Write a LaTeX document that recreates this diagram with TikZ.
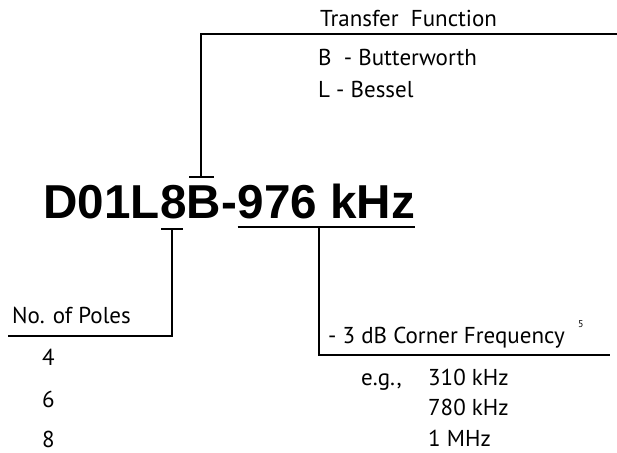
\documentclass[tikz,border=0pt]{standalone}
\usepackage{fontspec}
\setmainfont{PT Sans}
\newfontfamily\partfont{Liberation Sans}
\usetikzlibrary{calc}
\tikzset{
  lbl/.style={anchor=base west, inner sep=0pt, font=\fontsize{23}{27}\selectfont},
  big/.style={anchor=base west, inner sep=0pt, font=\partfont\bfseries\fontsize{47.6}{56}\selectfont},
  lead/.style={line width=2.2pt}
}
\begin{document}
\begin{tikzpicture}[x=1pt, y=-1pt, line join=miter, line cap=butt]
	\useasboundingbox (0,0) rectangle (617,452);
	
	% part number, one node per field
	\node[big] (pre) at (43,218) {D01L};
	\node[big] (pole) at (pre.base east) {8};
	\node[big] (type) at (pole.base east) {B};
	\node[big] (dash) at (type.base east) {-};
	\node[big] (freq) at (dash.base east) {976 kHz};
	
	% transfer function
	\coordinate (tfL) at ($(type.base)+(-15,-41)$);
	\coordinate (tfR) at ($(type.base)+(10,-41)$);
	\coordinate (tfM) at ($(type.base)+(-3,-41)$);
	\coordinate (tfTop) at ($(tfM|-0,34)$);
	\coordinate (tfEnd) at (617,34);
	\draw[lead] (tfL)--(tfR) (tfM)--(tfTop)--(tfEnd);
	
	\node[lbl] (tfHead) at (320,27) {Transfer\ \ Function};
	\node[lbl] (tfB) at (318,65) {B\ \ - Butterworth};
	\node[lbl] (tfL2) at (318,97) {L\ - Bessel};
	
	% poles
	\coordinate (plL) at ($(pole.base)+(-12,11)$);
	\coordinate (plR) at ($(pole.base)+(10,11)$);
	\coordinate (plM) at ($(pole.base)+(-1,11)$);
	\coordinate (plBot) at ($(plM|-0,336)$);
	\coordinate (plEnd) at (8,336);
	\draw[lead] (plL)--(plR) (plM)--(plBot)--(plEnd);
	
	\node[lbl] (plHead) at (12,323) {No. of Poles};
	\node[lbl] (pl4) at (42,365) {4};
	\node[lbl] (pl6) at (42,407) {6};
	\node[lbl] (pl8) at (42,447) {8};
	
	% corner frequency
	\coordinate (fqL) at ($(freq.base west)+(0,9)$);
	\coordinate (fqR) at ($(freq.base east)+(0,9)$);
	\coordinate (fqM) at (319,227);
	\coordinate (fqBot) at (319,355);
	\coordinate (fqEnd) at (610,355);
	\draw[lead] (fqL)--(fqR) (fqM)--(fqBot)--(fqEnd);
	
	\node[lbl] (fqHead) at (328,343) {- 3 dB Corner Frequency};
	\node[anchor=base west, inner sep=0pt, font=\fontsize{10}{11}\selectfont] (fqNote) at (578,327) {5};
	\node[lbl] (fqEg) at (361,385) {e.g.,};
	\node[lbl] (fq310) at (428,385) {310 kHz};
	\node[lbl] (fq780) at (428,415) {780 kHz};
	\node[lbl] (fq1) at (428,446) {1 MHz};
\end{tikzpicture}
\end{document}
